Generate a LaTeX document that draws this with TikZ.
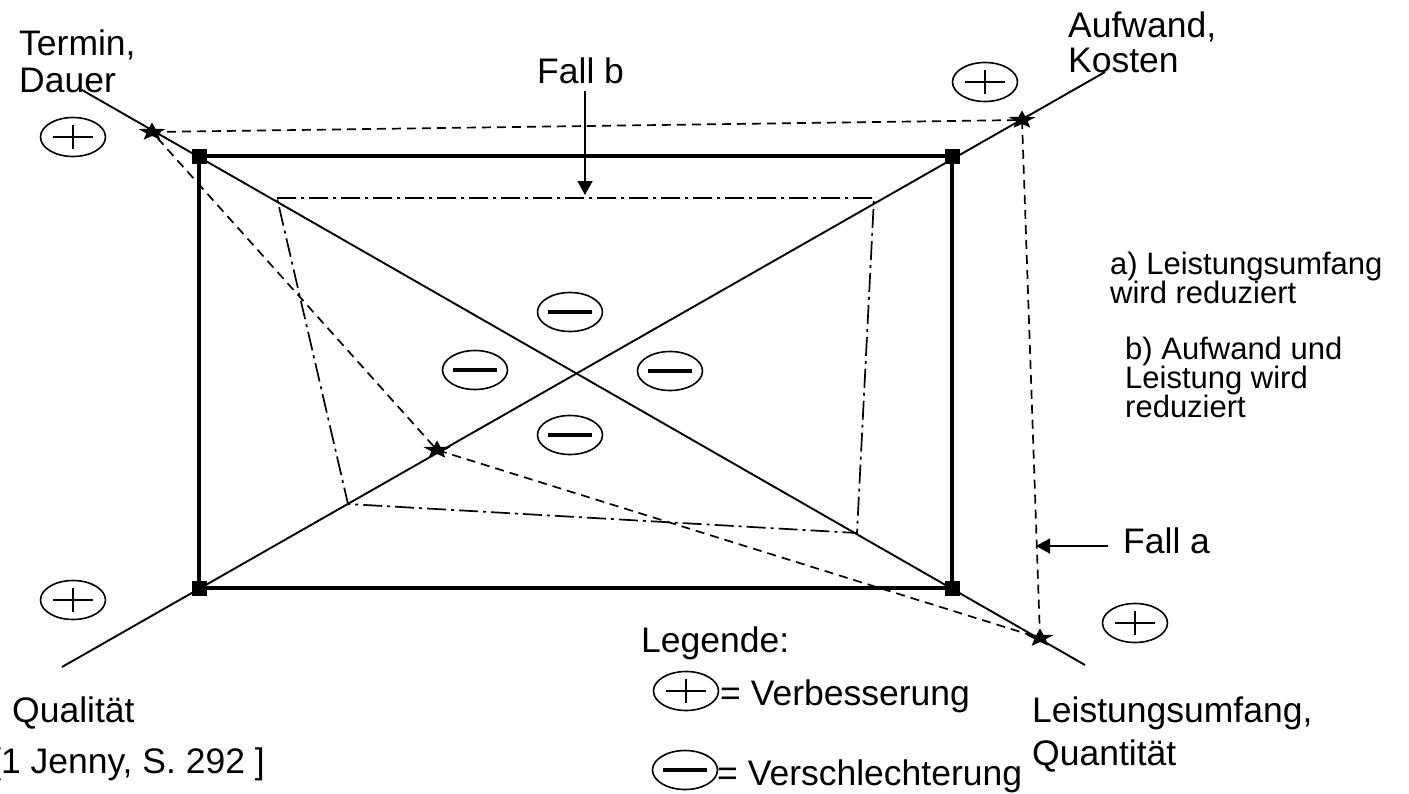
\documentclass[tikz,border=0pt]{standalone}
\usepackage{fontspec}
\setmainfont{Liberation Sans}
\usetikzlibrary{shapes.geometric,arrows.meta}

\tikzset{
  sym/.style={ellipse, draw, line width=1.6pt, minimum width=65pt, minimum height=39pt, inner sep=0pt},
  plussym/.pic={
    \node[sym] (-e) at (0,0) {};
    \draw[line width=1.6pt] (-20,0) -- (20,0) (0,-12) -- (0,12);
  },
  minussym/.pic={
    \node[sym] (-e) at (0,0) {};
    \draw[line width=4.2pt] (-22,0) -- (22,0);
  },
  starpic/.pic={
    \node[star, star points=5, star point ratio=2.4, fill, inner sep=0pt,
          minimum size=19pt, xscale=1.5, transform shape] at (0,0) {};
  }
}

\begin{document}
\begin{tikzpicture}[x=1pt,y=-1pt,
  axis/.style={line width=1.9pt},
  frame/.style={line width=3.6pt},
  dashquad/.style={line width=1.7pt, dash pattern=on 9pt off 6pt},
  dotquad/.style={line width=1.7pt, dash pattern=on 19pt off 5pt on 3pt off 5pt},
  corner/.style={rectangle, fill, minimum size=15pt, inner sep=0pt},
  pointer/.style={line width=1.6pt, -{Triangle[length=14pt,width=15pt]}},
  lbl/.style={font=\fontsize{35.5}{37}\selectfont, inner sep=0pt, anchor=base west, align=left},
  note/.style={font=\fontsize{31}{29}\selectfont, inner sep=0pt, anchor=base west, align=left}
]
\useasboundingbox (0,0) rectangle (1409,793);

% axis end points
\coordinate (tEnd) at (82,90);
\coordinate (lEnd) at (1085,665);
\coordinate (qEnd) at (62,667);
\coordinate (aEnd) at (1105,72);

% points of case a (stars)
\coordinate (sT) at (152,132);
\coordinate (sA) at (1022,120);
\coordinate (sL) at (1040,638);
\coordinate (sQ) at (437,450);

% points of case b
\coordinate (dT) at (277,198);
\coordinate (dA) at (874,198);
\coordinate (dL) at (857,533);
\coordinate (dQ) at (348,504);

% rectangle corners
\node[corner] (c1) at (199,156) {};
\node[corner] (c2) at (952,156) {};
\node[corner] (c3) at (952,588) {};
\node[corner] (c4) at (199,588) {};

% axes
\draw[axis] (tEnd) -- (lEnd);
\draw[axis] (qEnd) -- (aEnd);

% target rectangle
\draw[frame] (c1.center) -- (c2.center) -- (c3.center) -- (c4.center) -- cycle;

% case a and case b outlines
\draw[dashquad] (sT) -- (sA) -- (sL) -- (sQ) -- cycle;
\draw[dotquad] (dT) -- (dA) -- (dL) -- (dQ) -- cycle;

% corner squares on top
\node[corner] at (c1) {};
\node[corner] at (c2) {};
\node[corner] at (c3) {};
\node[corner] at (c4) {};

% stars
\pic at (sT) {starpic};
\pic at (sA) {starpic};
\pic at (sL) {starpic};
\pic at (sQ) {starpic};

% improvement / deterioration marks
\pic (pT) at (73,137) {plussym};
\pic (pA) at (985,82) {plussym};
\pic (pQ) at (73,600) {plussym};
\pic (pL) at (1135,623) {plussym};
\pic (mN) at (570,312) {minussym};
\pic (mW) at (475,370) {minussym};
\pic (mE) at (670,371) {minussym};
\pic (mS) at (570,435) {minussym};

% axis labels (multi-line nodes sit on the baseline of their last line)
\node[lbl] (termin) at (19,92) {Termin,\\Dauer};
\node[lbl, font=\fontsize{35.5}{35}\selectfont] (aufwand) at (1068,72) {Aufwand,\\Kosten};
\node[lbl] (qual) at (12,722) {Qualität};
\node[lbl, anchor=base east] (src) at (265,773) {[1 Jenny, S. 292 ]};
\node[lbl, font=\fontsize{35.5}{43}\selectfont] (leist) at (1032,765) {Leistungsumfang,\\Quantität};

% cases
\node[lbl] (fallb) at (537,83) {Fall b};
\coordinate (fbS) at (585,91);
\coordinate (fbT) at (585,195);
\draw[pointer] (fbS) -- (fbT);

\node[lbl] (falla) at (1123,553) {Fall a};
\coordinate (faS) at (1108,546);
\coordinate (faT) at (1036,546);
\draw[pointer] (faS) -- (faT);

\node[note] (na) at (1110,303) {a) Leistungsumfang\\wird reduziert};
\node[note] (nb) at (1125,417) {b) Aufwand und\\Leistung wird\\reduziert};

% legend
\node[lbl] (leg) at (641,652) {Legende:};
\pic (lp) at (686,691) {plussym};
\pic (lm) at (685,770) {minussym};
\node[lbl] (lpt) at (720,705) {= Verbesserung};
\node[lbl] (lmt) at (717,785) {= Verschlechterung};

\end{tikzpicture}
\end{document}
